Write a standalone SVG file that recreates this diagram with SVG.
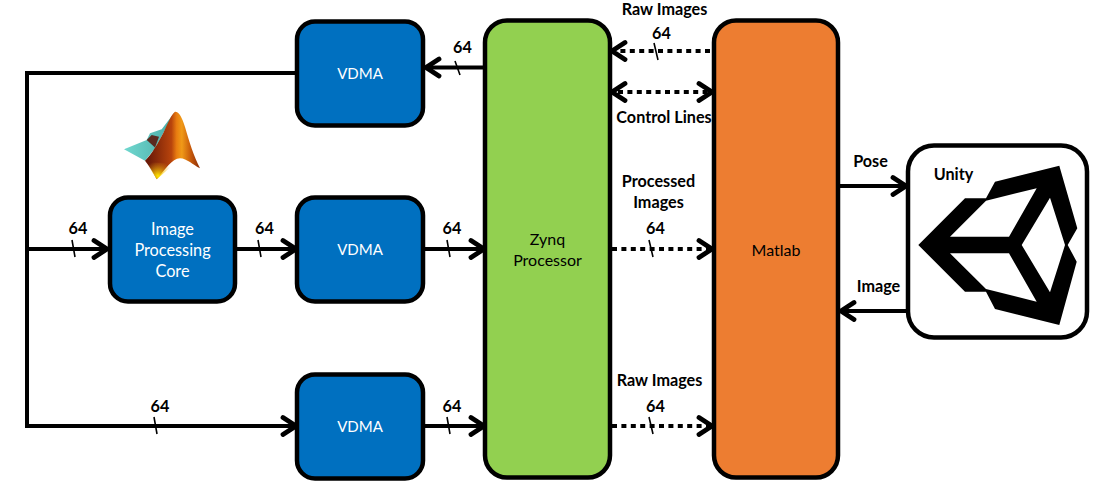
<svg xmlns="http://www.w3.org/2000/svg" width="1104" height="481" viewBox="0 0 1104 481">
<style>
text{font-family:Lato,"Noto Sans","Liberation Sans",sans-serif;text-anchor:middle}
.box{stroke:#000;stroke-width:4.5}
.blue{fill:#0070c0}
.w{fill:#fff;font-size:16.300px}
.v{fill:#fff;font-size:15px}
.c{fill:#000;font-size:16px}
.k{fill:#000;font-size:16.200px;font-weight:700}
.l{fill:none;stroke:#000;stroke-width:4}
.d{fill:none;stroke:#000;stroke-width:4;stroke-dasharray:5 4.400}
.t{fill:none;stroke:#000;stroke-width:1.600}
.h{fill:none;stroke:#000;stroke-width:4.800;stroke-linecap:round;stroke-linejoin:miter}
</style>
<defs>
<linearGradient id="mo" gradientUnits="userSpaceOnUse" x1="148" y1="150" x2="200" y2="150"><stop offset="0" stop-color="#6a1a08"/><stop offset=".45" stop-color="#b8440c"/><stop offset=".55" stop-color="#e87c10"/><stop offset=".65" stop-color="#f09a18"/><stop offset=".82" stop-color="#c85a0a"/><stop offset="1" stop-color="#8a2c08"/></linearGradient>
<linearGradient id="mt" x1="0" y1="0" x2="1" y2="0"><stop offset="0" stop-color="#70d8cf"/><stop offset="1" stop-color="#4aaaa6"/></linearGradient>
<radialGradient id="my" gradientUnits="userSpaceOnUse" cx="158" cy="176" r="15"><stop offset="0" stop-color="#ffe800"/><stop offset="1" stop-color="#f0a010" stop-opacity="0"/></radialGradient>
</defs>
<g id="connectors">
<path class="l" d="M297 73H27V426H297M27 249H106M236 249H293M424 249H482M424 426H482M484 67.500H428"/>
<path class="l" d="M838 311H907M838 186H905"/>
<path class="d" d="M710 51H616M618 92H708M612 249H708M612 426H708"/>
<path class="h" d="M94 240.500L107 249L94 257.500M283 240.500L296 249L283 257.500M283 417.500L296 426L283 434.500M471 240.500L484 249L471 257.500M471 417.500L484 426L471 434.500M439 59L426 67.500L439 76M625 42.500L612 51L625 59.500M625 83.500L612 92L625 100.500M699 83.500L712 92L699 100.500M699 240.500L712 249L699 257.500M699 417.500L712 426L699 434.500M893 177.500L906 186L893 194.500M854 302.500L841 311L854 319.500"/>
<path class="t" d="M72 240L75 257M258 240L261 257M447 240L450 257M447 417L450 434M154 417L157 434M455 61L460 75M654 43L658 60M649 240L653 257M649 417L653 434"/>
</g>
<g id="labels">
<text class="k" x="462.500" y="52.500">64</text>
<text class="k" x="78" y="233.500">64</text>
<text class="k" x="264.500" y="233.500">64</text>
<text class="k" x="452" y="233.500">64</text>
<text class="k" x="160" y="411.500">64</text>
<text class="k" x="452" y="411.500">64</text>
<text class="k" x="661.500" y="38.500">64</text>
<text class="k" x="655.500" y="233.500">64</text>
<text class="k" x="655.500" y="411.500">64</text>
<text class="k" x="664.500" y="14.800">Raw Images</text>
<text class="k" x="664" y="122.800">Control Lines</text>
<text class="k" x="658.500" y="186.800">Processed</text>
<text class="k" x="658.500" y="207.800">Images</text>
<text class="k" x="659.500" y="385.800">Raw Images</text>
<text class="k" x="870.500" y="166.800">Pose</text>
<text class="k" x="878.500" y="291.800">Image</text>
</g>
<g id="matlab-logo">
<path fill="url(#mt)" d="M124 149.300L146.700 140L150 133.300L161.700 129.300L175 111.700L163.300 133L155 148.300L145 160.700Z"/>
<path fill="#5a2a20" d="M146.700 140L151.700 135L159 136.700L155 147.500Z"/>
<path fill="url(#mo)" d="M175 111.700C179 111.500 182 117 185 127C189 141 194 157 200 168.300C193 165 187 158.500 180 158.300C172 158.500 165 170 156.700 179.300C153 172 149 166 145 160.700C152 154 158 143 163.300 133C167 125 171 115 175 111.700Z"/>
<path fill="url(#my)" d="M146 162L165 163L173 165L156.700 179.300Z"/>
</g>
<g id="vdma-top"><rect class="box blue" x="297" y="21.500" width="126" height="104" rx="18"/><text class="v" x="360" y="78.500">VDMA</text></g>
<g id="vdma-mid"><rect class="box blue" x="297" y="197.500" width="126" height="104" rx="18"/><text class="v" x="360" y="254.500">VDMA</text></g>
<g id="vdma-bot"><rect class="box blue" x="297" y="374.500" width="126" height="104" rx="18"/><text class="v" x="360" y="431.500">VDMA</text></g>
<g id="ipc"><rect class="box blue" x="110" y="197.500" width="125" height="104" rx="18"/><text class="w" x="172.500" y="234.800">Image</text><text class="w" x="172.500" y="255.800">Processing</text><text class="w" x="172.500" y="276.800">Core</text></g>
<g id="zynq"><rect class="box" fill="#92d050" x="485" y="20.500" width="125" height="457" rx="22"/><text class="c" x="547.500" y="244.500">Zynq</text><text class="c" x="547.500" y="265.500">Processor</text></g>
<g id="matlab"><rect class="box" fill="#ed7d31" x="714" y="20.500" width="124" height="457" rx="22"/><text class="c" x="776" y="255.500">Matlab</text></g>
<g id="unity"><rect class="box" fill="#fff" x="908" y="145.500" width="179" height="192" rx="26"/>
<path fill="#000" fill-rule="evenodd" d="M918.300 245L965 198.300H986L995 181.700L1059.300 165.700L1077.300 228.300L1067.700 245L1076.700 261.700L1059.300 325L995 309L986 291.700H965ZM950 236.700L986 200.700L1036.700 188.300L1009 236.700ZM950 253.300L986 289L1036.700 301.700L1009 253.300ZM1050 197.700L1065 245L1050 292.300L1021.700 245Z"/>
<text class="k" x="953.500" y="179.800">Unity</text></g>
</svg>
